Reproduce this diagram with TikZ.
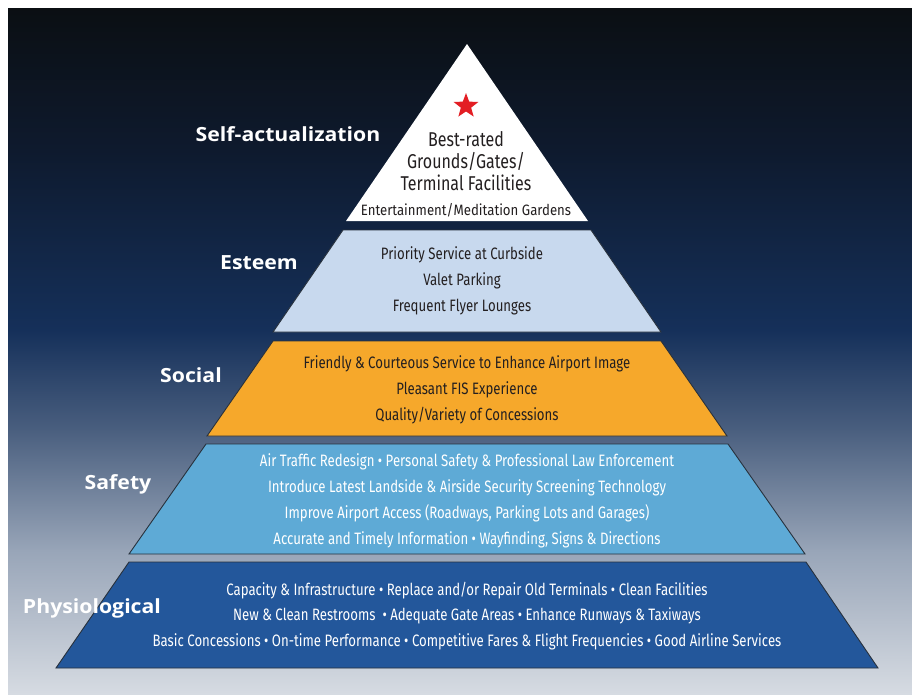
\documentclass[tikz,border=0pt]{standalone}
\usepackage{fontspec}
\usetikzlibrary{shapes.geometric,positioning}
\newfontfamily\bodyfont[FakeStretch=0.80]{Fira Sans}
\newfontfamily\gardenfont[FakeStretch=0.88]{Fira Sans}
\newfontfamily\labelfont[FakeStretch=1.09]{Open Sans}

\definecolor{bgA}{HTML}{0B0F13}
\definecolor{bgB}{HTML}{0E1A2E}
\definecolor{bgC}{HTML}{15305A}
\definecolor{bgD}{HTML}{4A5F7F}
\definecolor{bgE}{HTML}{98A5B8}
\definecolor{bgF}{HTML}{D6DBE2}
\definecolor{tierline}{HTML}{28313C}
\definecolor{esteemC}{HTML}{C8D9EE}
\definecolor{socialC}{HTML}{F6A82B}
\definecolor{safetyC}{HTML}{5EAAD6}
\definecolor{physioC}{HTML}{23579B}
\definecolor{starC}{HTML}{E31E24}
\definecolor{inkC}{HTML}{231F20}

\begin{document}
\begin{tikzpicture}
  [x=1pt,y=-1pt,
   tier/.style={draw=tierline,line width=0.9pt},
   level/.style={font=\labelfont\bfseries\fontsize{19.5}{22}\selectfont,text=white},
   items/.style={font=\bodyfont\fontsize{16.5}{26}\selectfont,align=center}]

  \useasboundingbox (0,0) rectangle (912,694);

  % backdrop
  \fill[white] (0,0) rectangle (912,694);
  \shade[top color=bgA,bottom color=bgB] (8,8) rectangle (912,151);
  \shade[top color=bgB,bottom color=bgC] (8,150) rectangle (912,331);
  \shade[top color=bgC,bottom color=bgD] (8,330) rectangle (912,431);
  \shade[top color=bgD,bottom color=bgE] (8,430) rectangle (912,551);
  \shade[top color=bgE,bottom color=bgF] (8,550) rectangle (912,694);

  % pyramid
  \fill[white] (467,44) -- (588,221) -- (346,221) -- cycle;
  \draw[tier,fill=esteemC] (343,230) -- (591,230) -- (661,332) -- (273,332) -- cycle;
  \draw[tier,fill=socialC] (273,341) -- (661,341) -- (727,436) -- (207,436) -- cycle;
  \draw[tier,fill=safetyC] (206,444) -- (728,444) -- (805,554) -- (129,554) -- cycle;
  \draw[tier,fill=physioC] (129,562) -- (806,562) -- (878,668) -- (56,668) -- cycle;

  \node[star,star points=5,star point ratio=2.4,fill=starC,minimum size=26pt,inner sep=0pt] (star) at (466,106) {};
  \node[items,text=inkC,font=\bodyfont\fontsize{20}{22}\selectfont] (top) at (466,161)
    {Best-rated\\Grounds/Gates/\\Terminal Facilities};
  \node[items,text=inkC,font=\gardenfont\fontsize{15}{16}\selectfont] (garden) at (466,210)
    {Entertainment/Meditation Gardens};

  \node[items,text=inkC] (esteemT) at (462,281)
    {Priority Service at Curbside\\Valet Parking\\Frequent Flyer Lounges};
  \node[items,text=inkC] (socialT) at (467,390)
    {Friendly \& Courteous Service to Enhance Airport Image\\Pleasant FIS Experience\\Quality/Variety of Concessions};
  \node[items,text=white] (safetyT) at (467,500.5)
    {Air Traffic Redesign • Personal Safety \& Professional Law Enforcement\\
     Introduce Latest Landside \& Airside Security Screening Technology\\
     Improve Airport Access (Roadways, Parking Lots and Garages)\\
     Accurate and Timely Information • Wayfinding, Signs \& Directions};
  \node[items,text=white,font=\bodyfont\fontsize{16.5}{25.5}\selectfont] (physioT) at (467,616)
    {Capacity \& Infrastructure • Replace and/or Repair Old Terminals • Clean Facilities\\
     New \& Clean Restrooms~ • Adequate Gate Areas • Enhance Runways \& Taxiways\\
     Basic Concessions • On-time Performance • Competitive Fares \& Flight Frequencies • Good Airline Services};

  % level names
  \node[level] (selfL)   at (288,134) {Self-actualization};
  \node[level] (esteemL) at (259,263) {Esteem};
  \node[level] (socialL) at (191,375) {Social};
  \node[level] (safetyL) at (118,484) {Safety};
  \node[level] (physioL) at (92,608)  {Physiological};
\end{tikzpicture}
\end{document}
